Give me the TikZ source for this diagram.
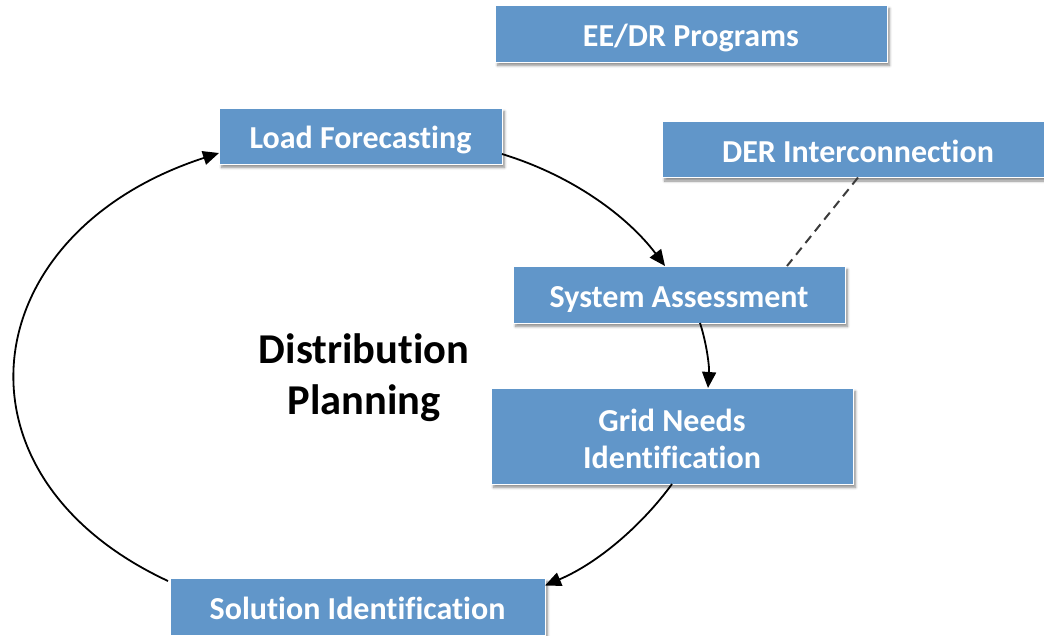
\documentclass[tikz,border=0pt]{standalone}
\usepackage{fontspec}
\setmainfont{Carlito}[Ligatures=NoCommon]
\usetikzlibrary{arrows.meta,shadows.blur,calc}
\definecolor{boxblue}{RGB}{97,150,201}
\definecolor{dashgray}{RGB}{60,60,60}
\begin{document}
\begin{tikzpicture}[x=1pt,y=1pt,
  box/.style={draw=white, line width=1pt, fill=boxblue, text=white,
    font=\fontsize{32}{37}\selectfont\bfseries, align=center,
    inner sep=0pt, outer sep=0pt, text height=25pt, text depth=0pt,
    blur shadow={shadow xshift=2.5pt, shadow yshift=-3.5pt, shadow blur steps=6, shadow blur radius=2.5pt, shadow opacity=45}},
  flow/.style={draw=black, line width=1.8pt, -{Triangle[length=16pt,width=14pt]}},
  link/.style={draw=dashgray, line width=2pt, dash pattern=on 9pt off 6pt}]
\useasboundingbox (0,0) rectangle (1044,-635);
\node[box, minimum width=392pt, minimum height=57pt] (eedr) at (691,-33.5) {EE/DR Programs};
\node[box, minimum width=283pt, minimum height=56pt] (load) at (360.5,-136) {Load Forecasting};
\node[box, minimum width=392pt, minimum height=56pt] (der) at (858,-149.5) {DER Interconnection};
\node[box, minimum width=332pt, minimum height=57pt] (sys) at (679,-294.5) {System Assessment};
\node[box, text height=, text depth=, minimum width=362pt, minimum height=96pt] (grid) at (672,-436) {\rule{0pt}{28pt}Grid Needs\\Identification};
\node[box, minimum width=375pt, minimum height=57pt] (sol) at (357.5,-606.5) {Solution Identification};
\node[font=\fontsize{42.5}{51}\selectfont\bfseries, align=center, text=black] (title) at (364,-378) {Distribution\\Planning};
\draw[flow] ([yshift=-18pt]load.east) to[out=-17, in=127, out distance=75pt, in distance=61pt] ([xshift=-14pt]sys.north);
\draw[flow] ([xshift=21pt]sys.south) to[out=-72, in=86, out distance=22pt, in distance=21pt] ([xshift=36pt]grid.north);
\draw[flow] (grid.south) to[out=-126, in=23, out distance=49pt, in distance=59pt] ([yshift=21pt]sol.east);
\draw[flow] ([xshift=-2pt,yshift=-3pt]sol.north west) to[out=155, in=198, out distance=251pt, in distance=258pt] ([yshift=-17pt]load.west);
\draw[link] (der.south) -- ([xshift=108pt]sys.north);
\end{tikzpicture}
\end{document}
